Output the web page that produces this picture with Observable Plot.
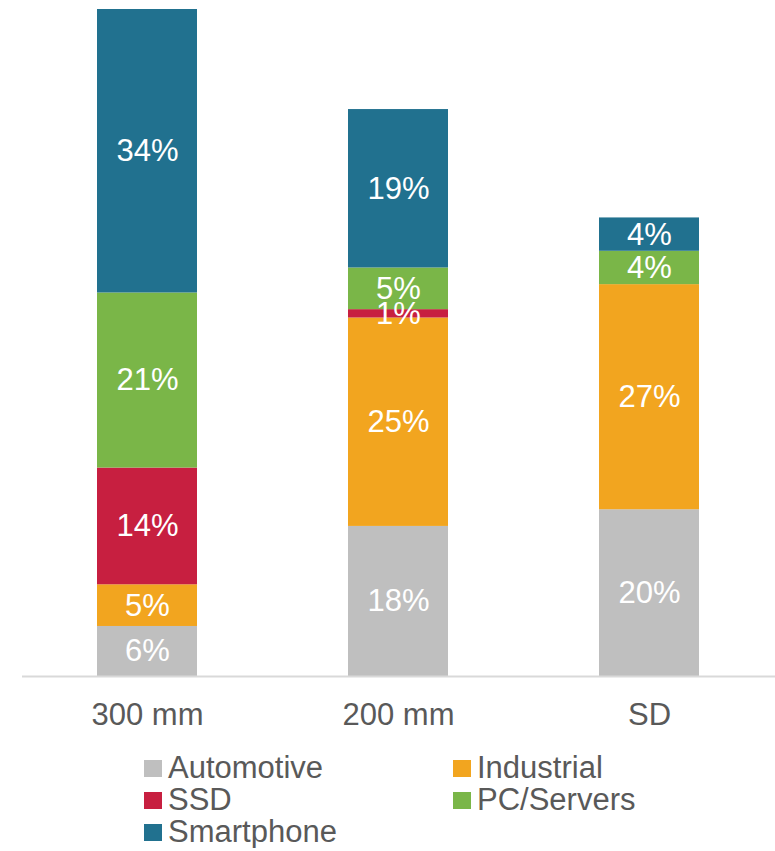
<!DOCTYPE html>
<html>
<head>
<meta charset="utf-8">
<script src="https://cdn.jsdelivr.net/npm/d3@7"></script>
<script src="https://cdn.jsdelivr.net/npm/@observablehq/plot@0.6"></script>
<style>
  body { margin: 0; background: #fff; font-family: "Liberation Sans", Arial, sans-serif; }
  #chart svg { display: block; }
  #legend { display: grid; grid-template-columns: 309px 300px; padding-left: 144px; color: #595959; font-size: 31px; line-height: 32px; }
  .item { display: flex; align-items: center; white-space: nowrap; }
  .sw { width: 18px; height: 17px; margin-right: 6px; flex: none; }
</style>
</head>
<body>
<div id="chart"></div>
<div id="legend"></div>
<script>
const categories = ["300 mm", "200 mm", "SD"];
const series = ["Automotive", "Industrial", "SSD", "PC/Servers", "Smartphone"];
const colors = ["#bfbfbf", "#f2a51f", "#c71f40", "#7ab648", "#21718f"];
const automotive = [6, 18, 20];
const industrial = [5, 25, 27];
const ssd = [14, 1, 0];
const pcServers = [21, 5, 4];
const smartphone = [34, 19, 4];

const valuesBySeries = [automotive, industrial, ssd, pcServers, smartphone];
const data = [];
categories.forEach((c, i) => {
  series.forEach((s, j) => {
    data.push({category: c, series: s, value: valuesBySeries[j][i]});
  });
});

const chart = Plot.plot({
  width: 775,
  height: 752,
  marginLeft: 22,
  marginRight: 0,
  marginTop: 9,
  marginBottom: 76,
  style: {fontFamily: "Liberation Sans, Arial, sans-serif", color: "#595959", background: "#fff"},
  x: {domain: categories, paddingInner: 0.6, paddingOuter: 0.3, label: null},
  y: {domain: [0, 80], axis: null},
  color: {domain: series, range: colors},
  marks: [
    Plot.barY(data, Plot.stackY({x: "category", y: "value", fill: "series", order: series})),
    Plot.text(data.filter(d => d.value > 0), Plot.stackY({x: "category", y: "value", z: "series", order: series, text: d => d.value + "%", fill: "white", fontSize: 31})),
    Plot.ruleY([0], {stroke: "#d9d9d9", strokeWidth: 2}),
    Plot.axisX({tickSize: 0, tickPadding: 26, fontSize: 31, label: null})
  ]
});
document.getElementById("chart").appendChild(chart);

const legend = document.getElementById("legend");
series.forEach((s, i) => {
  const item = document.createElement("div");
  item.className = "item";
  const sw = document.createElement("span");
  sw.className = "sw";
  sw.style.background = colors[i];
  const t = document.createElement("span");
  t.textContent = s;
  item.appendChild(sw);
  item.appendChild(t);
  legend.appendChild(item);
});
</script>
</body>
</html>
